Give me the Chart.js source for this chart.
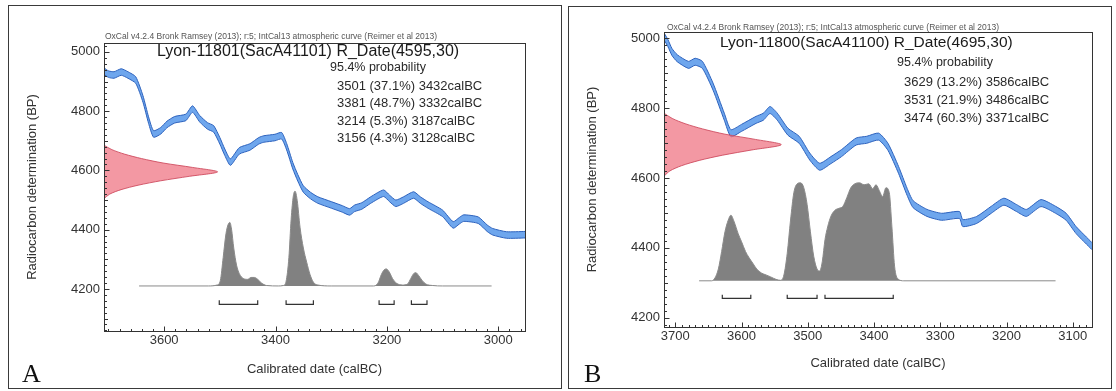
<!DOCTYPE html>
<html>
<head>
<meta charset="utf-8">
<script src="https://cdn.jsdelivr.net/npm/chart.js@4"></script>
<style>
body { margin: 0; background: #fff; width: 1116px; height: 391px; position: relative; overflow: hidden; font-family: "Liberation Sans", Arial, sans-serif; }
.frame { position: absolute; border: 1px solid #3a3a3a; box-sizing: border-box; }
canvas { position: absolute; }
.letter { position: absolute; font-family: "Liberation Serif", "Times New Roman", serif; font-size: 26px; line-height: 26px; color: #111; }
</style>
</head>
<body>
<div class="frame" style="left:8px;top:5px;width:554px;height:384px"></div>
<div class="frame" style="left:568px;top:6px;width:544px;height:383px"></div>
<canvas id="chartA" width="554" height="384" style="left:8px;top:5px"></canvas>
<canvas id="chartB" width="544" height="383" style="left:568px;top:6px"></canvas>
<div class="letter" style="left:22px;top:361px">A</div>
<div class="letter" style="left:584px;top:361px">B</div>
<script>
const HEADER = 'OxCal v4.2.4 Bronk Ramsey (2013); r:5; IntCal13 atmospheric curve (Reimer et al 2013)';

// ---- A: Lyon-11801 (SacA41101), R_Date(4595,30) ----
const titleA = 'Lyon-11801(SacA41101) R_Date(4595,30)';
const curveA_years = [3708,3700,3690,3677,3665,3651,3638,3628,3619,3606,3595,3581,3561,3549,3536,3522,3511,3500,3491,3481,3465,3446,3430,3421,3401,3389,3380,3369,3360,3350,3337,3324,3299,3280,3267,3258,3245,3229,3206,3195,3184,3170,3152,3140,3126,3100,3081,3070,3062,3036,3020,3010,2985,2952];
const curveA_bp = [4935,4925,4922,4932,4922,4905,4841,4770,4723,4734,4755,4771,4779,4807,4774,4750,4740,4700,4661,4628,4666,4679,4700,4706,4711,4717,4680,4616,4575,4537,4515,4500,4483,4470,4460,4472,4480,4500,4523,4505,4489,4500,4517,4500,4483,4455,4416,4430,4439,4432,4405,4393,4382,4383];
const curveA_sigma = 11;
const redA_bp = [4505,4520,4535,4550,4565,4580,4595,4610,4625,4640,4655,4670,4685];
const redA_p = [0,0.05,0.15,0.3,0.5,0.75,1,0.78,0.52,0.33,0.18,0.07,0];
const postA_years = [3645,3520,3505,3499,3494,3489,3485,3482,3479,3475,3470,3465,3458,3450,3444,3438,3432,3425,3416,3395,3386,3381,3376,3372,3368,3365,3361,3356,3350,3344,3338,3332,3324,3300,3224,3216,3210,3205,3201,3196,3190,3183,3172,3163,3157,3152,3148,3143,3137,3130,3118,3100,3012];
const postA_p = [0,0,0.01,0.06,0.3,0.55,0.65,0.67,0.6,0.4,0.22,0.13,0.08,0.07,0.09,0.09,0.07,0.03,0.005,0,0.005,0.05,0.3,0.7,0.95,1.0,0.9,0.62,0.4,0.25,0.12,0.04,0.01,0,0,0.03,0.12,0.17,0.18,0.15,0.08,0.03,0.01,0.02,0.08,0.13,0.14,0.11,0.06,0.02,0.005,0,0];
const rangesA = [[3501,3432],[3381,3332],[3214,3187],[3156,3128]];
const rangesA_pct = ['37.1%','48.7%','5.3%','4.3%'];
const ticksA_x = [3600,3400,3200,3000];
const ticksA_y = [4200,4400,4600,4800,5000];

// ---- B: Lyon-11800 (SacA41100), R_Date(4695,30) ----
const titleB = 'Lyon-11800(SacA41100) R_Date(4695,30)';
const curveB_years = [3717,3711,3705,3697,3680,3670,3659,3643,3626,3616,3600,3578,3567,3557,3546,3530,3513,3497,3482,3465,3449,3427,3411,3393,3379,3363,3350,3341,3320,3298,3271,3266,3245,3223,3204,3185,3170,3148,3126,3110,3095,3071];
const curveB_bp = [5005,4985,4960,4942,4923,4932,4923,4861,4775,4728,4743,4766,4775,4794,4775,4732,4709,4661,4632,4651,4671,4704,4709,4718,4689,4623,4560,4525,4500,4489,4494,4471,4480,4509,4532,4514,4500,4528,4509,4489,4451,4405];
const curveB_sigma = 10;
const redB_bp = [4605,4620,4635,4650,4665,4680,4695,4710,4725,4740,4755,4770,4785];
const redB_p = [0,0.05,0.15,0.3,0.5,0.75,1,0.78,0.52,0.33,0.18,0.07,0];
const postB_years = [3664,3645,3640,3635,3630,3625,3620,3616,3611,3605,3600,3594,3589,3583,3577,3570,3563,3556,3548,3541,3536,3531,3526,3521,3516,3511,3506,3501,3496,3491,3486,3482,3478,3474,3470,3465,3459,3453,3447,3441,3435,3429,3422,3415,3408,3402,3397,3392,3387,3382,3377,3373,3369,3364,3355,3126];
const postB_p = [0,0,0.03,0.12,0.3,0.5,0.62,0.67,0.6,0.48,0.4,0.3,0.24,0.18,0.12,0.08,0.06,0.04,0.015,0.005,0.06,0.28,0.62,0.9,0.99,1.0,0.95,0.78,0.5,0.25,0.12,0.1,0.2,0.42,0.55,0.66,0.72,0.74,0.76,0.85,0.95,0.99,1.0,0.98,0.99,0.94,0.98,0.92,0.86,0.95,0.9,0.55,0.15,0.02,0,0];
const rangesB = [[3629,3586],[3531,3486],[3474,3371]];
const rangesB_pct = ['13.2%','21.9%','60.3%'];
const ticksB_x = [3700,3600,3500,3400,3300,3200,3100];
const ticksB_y = [4200,4400,4600,4800,5000];

const FONT = '"Liberation Sans", Arial, sans-serif';

// frame, inward ticks and the OxCal texts
const oxcalDecor = {
  id: 'oxcalDecor',
  afterDatasetsDraw(chart, args, o) {
    const {ctx, chartArea: a, scales: {x, y}} = chart;
    ctx.save();
    ctx.strokeStyle = '#333';
    ctx.lineWidth = 1;
    const L = Math.round(a.left) + 0.5, T = Math.round(a.top) + 0.5;
    const R = Math.round(a.right) + 0.5, B = Math.round(a.bottom) + 0.5;
    ctx.strokeRect(L, T, R - L, B - T);
    ctx.beginPath();
    for (let v = Math.ceil(x.min / o.xStep) * o.xStep; v <= x.max; v += o.xStep) {
      const px = Math.round(x.getPixelForValue(v)) + 0.5;
      const len = v % o.xMajor === 0 ? 5 : 2.5;
      ctx.moveTo(px, B); ctx.lineTo(px, B - len);
    }
    for (let v = Math.ceil(y.min / 20) * 20; v <= y.max; v += 20) {
      const py = Math.round(y.getPixelForValue(v)) + 0.5;
      const len = v % 200 === 0 ? 5 : (v % 100 === 0 ? 3.5 : 2.5);
      ctx.moveTo(L, py); ctx.lineTo(L + len, py);
    }
    ctx.stroke();

    ctx.textAlign = 'left';
    ctx.textBaseline = 'middle';
    ctx.fillStyle = '#555';
    ctx.font = '8.5px ' + FONT;
    ctx.fillText(HEADER, a.left + o.header[0], a.top + o.header[1]);
    ctx.fillStyle = '#1a1a1a';
    ctx.font = o.titleSize + 'px ' + FONT;
    ctx.fillText(o.title, a.left + o.titlePos[0], a.top + o.titlePos[1]);
    ctx.fillStyle = '#2a2a2a';
    ctx.font = '12.5px ' + FONT;
    ctx.fillText('95.4% probability', a.left + o.probPos[0], a.top + o.probPos[1]);
    ctx.font = '13px ' + FONT;
    o.lines.forEach((t, i) => {
      ctx.fillText(t, a.left + o.linesPos[0], a.top + o.linesPos[1] + i * o.lineStep);
    });
    ctx.restore();
  }
};

function makeChart(id, d) {
  const datasets = [];
  // measured date on the BP axis (red)
  datasets.push({
    data: d.redBp.map((b, i) => ({x: d.xMax - d.redP[i] * d.redWidth, y: b})),
    fill: 'shape',
    backgroundColor: 'rgba(238,112,128,0.72)',
    borderColor: 'rgba(205,70,90,0.85)',
    borderWidth: 1, tension: 0.3
  });
  // calibration curve band
  datasets.push({
    data: d.curveYears.map((t, i) => ({x: t, y: d.curveBp[i] + d.sigma})),
    borderColor: '#2d62bd', borderWidth: 1, fill: false, tension: 0.2
  });
  datasets.push({
    data: d.curveYears.map((t, i) => ({x: t, y: d.curveBp[i] - d.sigma})),
    borderColor: '#2d62bd', borderWidth: 1, fill: '-1',
    backgroundColor: 'rgba(98,158,236,0.92)', tension: 0.2
  });
  // 95.4% range brackets
  d.ranges.forEach(r => {
    datasets.push({
      data: [{x: r[0], y: d.brTop}, {x: r[0], y: d.brLine}, {x: r[1], y: d.brLine}, {x: r[1], y: d.brTop}],
      borderColor: '#333', borderWidth: 1.2, fill: false
    });
  });
  // calibrated date distribution (grey)
  datasets.push({
    data: d.postYears.map((t, i) => ({x: t, y: d.postBase + d.postP[i] * d.postHeight})),
    fill: {value: d.postBase},
    backgroundColor: 'rgba(118,118,118,0.92)',
    borderColor: '#8a8a8a', borderWidth: 1,
    cubicInterpolationMode: 'monotone'
  });
  datasets.forEach(ds => { ds.showLine = true; ds.pointRadius = 0; });

  return new Chart(document.getElementById(id), {
    type: 'scatter',
    data: {datasets},
    plugins: [oxcalDecor],
    options: {
      responsive: false,
      animation: false,
      layout: {padding: d.padding},
      plugins: {
        legend: {display: false},
        tooltip: {enabled: false},
        oxcalDecor: d.decor
      },
      scales: {
        x: {
          type: 'linear', reverse: true, min: d.xMin, max: d.xMax,
          grid: {display: false, drawTicks: false},
          border: {display: false},
          afterBuildTicks: s => { s.ticks = d.xTicks.map(v => ({value: v})); },
          afterFit: s => { s.height = d.xAxisH; s.paddingLeft = 0; s.paddingRight = 0; },
          ticks: {autoSkip: false, maxRotation: 0, padding: 2, color: '#333', font: {size: 13, family: FONT}, callback: v => String(v)},
          title: {display: true, text: 'Calibrated date (calBC)', color: '#333', padding: 0, font: {size: 13, family: FONT}}
        },
        y: {
          type: 'linear', min: d.yMin, max: d.yMax,
          grid: {display: false, drawTicks: false},
          border: {display: false},
          afterBuildTicks: s => { s.ticks = d.yTicks.map(v => ({value: v})); },
          afterFit: s => { s.width = d.yAxisW; s.paddingTop = 0; s.paddingBottom = 0; },
          ticks: {autoSkip: false, padding: 4, color: '#333', font: {size: 13, family: FONT}, callback: v => String(v)},
          title: {display: true, text: 'Radiocarbon determination (BP)', color: '#333', padding: 0, font: {size: 13, family: FONT}}
        }
      }
    }
  });
}

makeChart('chartA', {
  xMin: 2952, xMax: 3708, yMin: 4058, yMax: 5030,
  xTicks: ticksA_x, yTicks: ticksA_y,
  curveYears: curveA_years, curveBp: curveA_bp, sigma: curveA_sigma,
  redBp: redA_bp, redP: redA_p, redWidth: 204,
  postYears: postA_years, postP: postA_p, postBase: 4210, postHeight: 320,
  ranges: rangesA, brLine: 4148, brTop: 4162,
  padding: {left: 17, top: 38, right: 37, bottom: 12},
  yAxisW: 79, xAxisH: 46,
  decor: {
    xStep: 20, xMajor: 200,
    title: titleA, titleSize: 16,
    lines: rangesA.map((r, i) => r[0] + ' (' + rangesA_pct[i] + ') ' + r[1] + 'calBC'),
    header: [1, -6], titlePos: [53, 9], probPos: [226, 25], linesPos: [233, 43], lineStep: 17.5
  }
});

makeChart('chartB', {
  xMin: 3071, xMax: 3717, yMin: 4174, yMax: 5017,
  xTicks: ticksB_x, yTicks: ticksB_y,
  curveYears: curveB_years, curveBp: curveB_bp, sigma: curveB_sigma,
  redBp: redB_bp, redP: redB_p, redWidth: 177,
  postYears: postB_years, postP: postB_p, postBase: 4306, postHeight: 280,
  ranges: rangesB, brLine: 4256, brTop: 4266,
  padding: {left: 17, top: 26, right: 20, bottom: 18},
  yAxisW: 79, xAxisH: 44,
  decor: {
    xStep: 10, xMajor: 100,
    title: titleB, titleSize: 15.5,
    lines: rangesB.map((r, i) => r[0] + ' (' + rangesB_pct[i] + ') ' + r[1] + 'calBC'),
    header: [3, -4], titlePos: [56, 11], probPos: [233, 31], linesPos: [240, 50], lineStep: 18
  }
});
</script>
</body>
</html>
